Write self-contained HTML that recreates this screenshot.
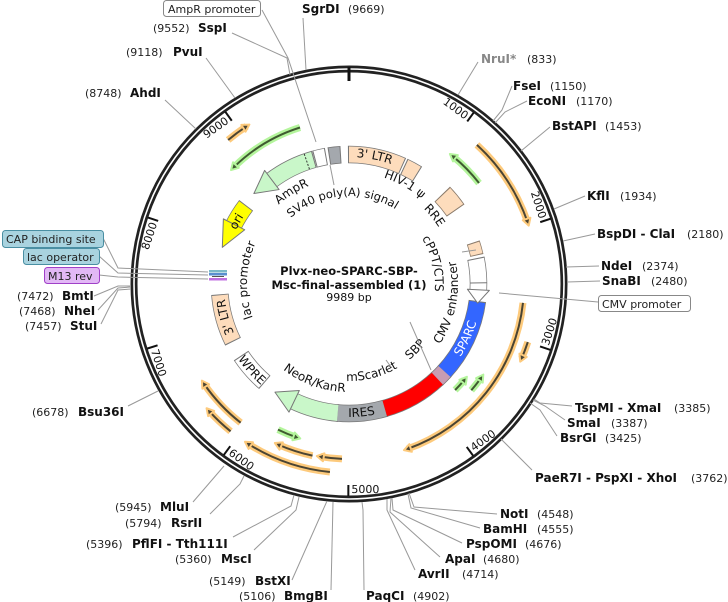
<!DOCTYPE html>
<html><head><meta charset="utf-8"><style>
html,body{margin:0;padding:0;background:#fff;}
svg{display:block;font-family:"DejaVu Sans","Liberation Sans",sans-serif;}
.n{font-size:11px;fill:#222;}
.b{font-size:12px;font-weight:bold;fill:#111;}
.f{font-size:12px;fill:#111;}
.t{font-size:11px;fill:#111;}
.ld{stroke:#999;stroke-width:1;fill:none;}
</style></head><body>
<svg width="728" height="602" viewBox="0 0 728 602" xmlns="http://www.w3.org/2000/svg">
<defs>
<path id="T127" d="M349,411 A127,127 0 1 1 349,157 A127,127 0 1 1 349,411"/>
<path id="T112" d="M349,396 A112,112 0 1 1 349,172 A112,112 0 1 1 349,396"/>
<path id="T106" d="M349,390 A106,106 0 1 1 349,178 A106,106 0 1 1 349,390"/>
<path id="T86" d="M349,370 A86,86 0 1 1 349,198 A86,86 0 1 1 349,370"/>
<path id="T102" d="M349,386 A102,102 0 1 1 349,182 A102,102 0 1 1 349,386"/>
<path id="T88" d="M349,372 A88,88 0 1 1 349,196 A88,88 0 1 1 349,372"/>
<path id="T125" d="M349,409 A125,125 0 1 1 349,159 A125,125 0 1 1 349,409"/>
<path id="B109" d="M349,175 A109,109 0 1 0 349,393 A109,109 0 1 0 349,175"/>
<path id="B133" d="M349,151 A133,133 0 1 0 349,417 A133,133 0 1 0 349,151"/>
<path id="B97" d="M349,187 A97,97 0 1 0 349,381 A97,97 0 1 0 349,187"/>
<path id="B108" d="M349,176 A108,108 0 1 0 349,392 A108,108 0 1 0 349,176"/>
<path id="B134" d="M349,150 A134,134 0 1 0 349,418 A134,134 0 1 0 349,150"/>
</defs>

<circle cx="349" cy="284" r="215" fill="none" stroke="#222" stroke-width="7"/>
<circle cx="349" cy="284" r="215" fill="none" stroke="#fff" stroke-width="1.6"/>

<line x1="349" y1="67" x2="349" y2="81" stroke="#111" stroke-width="3"/>
<g stroke="#111" stroke-width="2">
<line x1="349" y1="72" x2="349" y2="83" transform="rotate(36.04 349 284)"/>
<line x1="349" y1="72" x2="349" y2="83" transform="rotate(72.07 349 284)"/>
<line x1="349" y1="72" x2="349" y2="83" transform="rotate(108.11 349 284)"/>
<line x1="349" y1="72" x2="349" y2="83" transform="rotate(144.14 349 284)"/>
<line x1="349" y1="72" x2="349" y2="83" transform="rotate(180.18 349 284)"/>
<line x1="349" y1="72" x2="349" y2="83" transform="rotate(216.22 349 284)"/>
<line x1="349" y1="72" x2="349" y2="83" transform="rotate(252.25 349 284)"/>
<line x1="349" y1="72" x2="349" y2="83" transform="rotate(288.29 349 284)"/>
<line x1="349" y1="72" x2="349" y2="83" transform="rotate(324.32 349 284)"/>
</g>
<g class="t">
<g transform="rotate(36.04 349 284)"><text x="346" y="83" text-anchor="end">1000</text></g>
<g transform="rotate(72.07 349 284)"><text x="346" y="83" text-anchor="end">2000</text></g>
<g transform="rotate(108.11 349 284) rotate(180 349 79)"><text x="352" y="83">3000</text></g>
<g transform="rotate(144.14 349 284) rotate(180 349 79)"><text x="352" y="83">4000</text></g>
<g transform="rotate(180.18 349 284) rotate(180 349 79)"><text x="352" y="83">5000</text></g>
<g transform="rotate(216.22 349 284) rotate(180 349 79)"><text x="352" y="83">6000</text></g>
<g transform="rotate(252.25 349 284) rotate(180 349 79)"><text x="352" y="83">7000</text></g>
<g transform="rotate(288.29 349 284)"><text x="346" y="83" text-anchor="end">8000</text></g>
<g transform="rotate(324.32 349 284)"><text x="346" y="83" text-anchor="end">9000</text></g>
</g>

<g fill="none" stroke="#fdca7c" stroke-width="7">
<circle cx="349" cy="284" r="188" stroke-dasharray="23 5000" transform="rotate(230 349 284)"/>
<circle cx="349" cy="284" r="189" stroke-dasharray="93 5000" transform="rotate(-47.4 349 284)"/>
<circle cx="349" cy="284" r="175" stroke-dasharray="196.4 5000" transform="rotate(6.2 349 284)"/>
<circle cx="349" cy="284" r="188" stroke-dasharray="17.4 5000" transform="rotate(18 349 284)"/>
<circle cx="349" cy="284" r="176" stroke-dasharray="53.4 5000" transform="rotate(128 349 284)"/>
<circle cx="349" cy="284" r="189" stroke-dasharray="29.4 5000" transform="rotate(128.8 349 284)"/>
<circle cx="349" cy="284" r="189" stroke-dasharray="87.1 5000" transform="rotate(95.8 349 284)"/>
<circle cx="349" cy="284" r="175.5" stroke-dasharray="36.1 5000" transform="rotate(102 349 284)"/>
<circle cx="349" cy="284" r="175" stroke-dasharray="21.7 5000" transform="rotate(92.3 349 284)"/>
</g>
<g fill="none" stroke="#b4f59c" stroke-width="7">
<circle cx="349" cy="284" r="164" stroke-dasharray="77.6 5000" transform="rotate(225.5 349 284)"/>
<circle cx="349" cy="284" r="164.6" stroke-dasharray="37.3 5000" transform="rotate(-50.8 349 284)"/>
<circle cx="349" cy="284" r="150" stroke-dasharray="14.1 5000" transform="rotate(39.6 349 284)"/>
<circle cx="349" cy="284" r="162" stroke-dasharray="15.8 5000" transform="rotate(35.4 349 284)"/>
<circle cx="349" cy="284" r="162" stroke-dasharray="20.1 5000" transform="rotate(108.9 349 284)"/>
</g>
<g fill="none" stroke="#4a4433" stroke-width="2">
<circle cx="349" cy="284" r="188" stroke-dasharray="23 5000" transform="rotate(230 349 284)"/>
<circle cx="349" cy="284" r="189" stroke-dasharray="93 5000" transform="rotate(-47.4 349 284)"/>
<circle cx="349" cy="284" r="175" stroke-dasharray="196.4 5000" transform="rotate(6.2 349 284)"/>
<circle cx="349" cy="284" r="188" stroke-dasharray="17.4 5000" transform="rotate(18 349 284)"/>
<circle cx="349" cy="284" r="176" stroke-dasharray="53.4 5000" transform="rotate(128 349 284)"/>
<circle cx="349" cy="284" r="189" stroke-dasharray="29.4 5000" transform="rotate(128.8 349 284)"/>
<circle cx="349" cy="284" r="189" stroke-dasharray="87.1 5000" transform="rotate(95.8 349 284)"/>
<circle cx="349" cy="284" r="175.5" stroke-dasharray="36.1 5000" transform="rotate(102 349 284)"/>
<circle cx="349" cy="284" r="175" stroke-dasharray="21.7 5000" transform="rotate(92.3 349 284)"/>
</g>
<g fill="none" stroke="#3f5a30" stroke-width="2">
<circle cx="349" cy="284" r="164" stroke-dasharray="77.6 5000" transform="rotate(225.5 349 284)"/>
<circle cx="349" cy="284" r="164.6" stroke-dasharray="37.3 5000" transform="rotate(-50.8 349 284)"/>
<circle cx="349" cy="284" r="150" stroke-dasharray="14.1 5000" transform="rotate(39.6 349 284)"/>
<circle cx="349" cy="284" r="162" stroke-dasharray="15.8 5000" transform="rotate(35.4 349 284)"/>
<circle cx="349" cy="284" r="162" stroke-dasharray="20.1 5000" transform="rotate(108.9 349 284)"/>
</g>
<g fill="#4a4433" stroke="#fdca7c" stroke-width="2" stroke-linejoin="round">
<polygon points="349,96 342,92 342,100" transform="rotate(328 349 284)"/>
<polygon points="349,95 342,91 342,99" transform="rotate(72 349 284)"/>
<polygon points="349,109 342,105 342,113" transform="rotate(161.7 349 284)"/>
<polygon points="349,96 342,92 342,100" transform="rotate(114.4 349 284)"/>
<polygon points="349,108 342,104 342,112" transform="rotate(236.7 349 284)"/>
<polygon points="349,95 342,91 342,99" transform="rotate(228.9 349 284)"/>
<polygon points="349,95 342,91 342,99" transform="rotate(213.4 349 284)"/>
<polygon points="349,108.5 342,104.5 342,112.5" transform="rotate(205 349 284)"/>
<polygon points="349,109 342,105 342,113" transform="rotate(190.6 349 284)"/>
</g>
<g fill="#3f5a30" stroke="#b4f59c" stroke-width="2" stroke-linejoin="round">
<polygon points="349,120 356,116 356,124" transform="rotate(314 349 284)"/>
<polygon points="349,119.4 356,115.4 356,123.4" transform="rotate(37.8 349 284)"/>
<polygon points="349,134 356,130 356,138" transform="rotate(128.2 349 284)"/>
<polygon points="349,122 356,118 356,126" transform="rotate(124 349 284)"/>
<polygon points="349,122 356,118 356,126" transform="rotate(197.5 349 284)"/>
</g>

<g fill="none" stroke="#777" stroke-width="17.5">
<circle cx="349" cy="284" r="129.5" stroke-dasharray="56.2 5000" transform="rotate(-90.45 349 284)"/>
<circle cx="349" cy="284" r="129.5" stroke-dasharray="15.6 5000" transform="rotate(-64.95 349 284)"/>
<circle cx="349" cy="284" r="129.5" stroke-dasharray="33.6 5000" transform="rotate(-11.45 349 284)"/>
<circle cx="349" cy="284" r="129.5" stroke-dasharray="80 5000" transform="rotate(7.55 349 284)"/>
<circle cx="349" cy="284" r="129.5" stroke-dasharray="12.2 5000" transform="rotate(42.05 349 284)"/>
<circle cx="349" cy="284" r="129.5" stroke-dasharray="63 5000" transform="rotate(46.55 349 284)"/>
<circle cx="349" cy="284" r="129.5" stroke-dasharray="49.5 5000" transform="rotate(73.55 349 284)"/>
<circle cx="349" cy="284" r="129.5" stroke-dasharray="48.3 5000" transform="rotate(94.55 349 284)"/>
<circle cx="349" cy="284" r="129.5" stroke-dasharray="35.9 5000" transform="rotate(130.55 349 284)"/>
<circle cx="349" cy="284" r="129.5" stroke-dasharray="49.5 5000" transform="rotate(153.55 349 284)"/>
<circle cx="349" cy="284" r="129.5" stroke-dasharray="24.6 5000" transform="rotate(206.55 349 284)"/>
<circle cx="349" cy="284" r="129.5" stroke-dasharray="49.5 5000" transform="rotate(232.55 349 284)"/>
<circle cx="349" cy="284" r="129.5" stroke-dasharray="12.2 5000" transform="rotate(254.55 349 284)"/>
<circle cx="349" cy="284" r="129.5" stroke-dasharray="12.2 5000" transform="rotate(261.05 349 284)"/>
</g>
<circle cx="349" cy="284" r="129.5" fill="none" stroke="#8a7a6a" stroke-width="21.5" stroke-dasharray="21.2 5000" transform="rotate(-43.95 349 284)"/>
<circle cx="349" cy="284" r="131" fill="none" stroke="#8a7a6a" stroke-width="13.5" stroke-dasharray="13.4 5000" transform="rotate(-18.45 349 284)"/>
<g fill="none" stroke-width="16">
<circle cx="349" cy="284" r="129.5" stroke="#fddcbc" stroke-dasharray="54.2 5000" transform="rotate(-90 349 284)"/>
<circle cx="349" cy="284" r="129.5" stroke="#fddcbc" stroke-dasharray="13.6 5000" transform="rotate(-64.5 349 284)"/>
<circle cx="349" cy="284" r="129.5" stroke="#fddcbc" stroke-width="20" stroke-dasharray="19.2 5000" transform="rotate(-43.5 349 284)"/>
<circle cx="349" cy="284" r="131" stroke="#fddcbc" stroke-width="12" stroke-dasharray="11.4 5000" transform="rotate(-18 349 284)"/>
<circle cx="349" cy="284" r="129.5" stroke="#ffffff" stroke-dasharray="31.6 5000" transform="rotate(-11 349 284)"/>
<circle cx="349" cy="284" r="129.5" stroke="#3366ff" stroke-dasharray="78 5000" transform="rotate(8 349 284)"/>
<circle cx="349" cy="284" r="129.5" stroke="#c89cb2" stroke-dasharray="10.2 5000" transform="rotate(42.5 349 284)"/>
<circle cx="349" cy="284" r="129.5" stroke="#ff0000" stroke-dasharray="61 5000" transform="rotate(47 349 284)"/>
<circle cx="349" cy="284" r="129.5" stroke="#a4a8ad" stroke-dasharray="47.5 5000" transform="rotate(74 349 284)"/>
<circle cx="349" cy="284" r="129.5" stroke="#c9f7c9" stroke-dasharray="46.3 5000" transform="rotate(95 349 284)"/>
<circle cx="349" cy="284" r="129.5" stroke="#ffffff" stroke-dasharray="33.9 5000" transform="rotate(131 349 284)"/>
<circle cx="349" cy="284" r="129.5" stroke="#fddcbc" stroke-dasharray="47.5 5000" transform="rotate(154 349 284)"/>
<circle cx="349" cy="284" r="129.5" stroke="#ffff00" stroke-dasharray="22.6 5000" transform="rotate(207 349 284)"/>
<circle cx="349" cy="284" r="129.5" stroke="#c9f7c9" stroke-dasharray="47.5 5000" transform="rotate(233 349 284)"/>
<circle cx="349" cy="284" r="129.5" stroke="#ffffff" stroke-dasharray="10.2 5000" transform="rotate(255 349 284)"/>
<circle cx="349" cy="284" r="129.5" stroke="#a4a8ad" stroke-dasharray="10.2 5000" transform="rotate(261.5 349 284)"/>
</g>
<g stroke="#777" stroke-width="1" stroke-linejoin="round">
<polygon points="348,143.5 361.4,154.5 348,165.5" fill="#fff" transform="rotate(93 349 284)"/>
<polygon points="348,142.5 369.3,154.5 348,166.5" fill="#c9f7c9" transform="rotate(205.5 349 284)"/>
<polygon points="350,142.5 324.1,154.5 350,166.5" fill="#ffff00" transform="rotate(297 349 284)"/>
<polygon points="350,142.5 327.5,154.5 350,166.5" fill="#c9f7c9" transform="rotate(323 349 284)"/>
</g>
<line x1="349" y1="146.5" x2="349" y2="162.5" stroke="#777" stroke-width="1" transform="rotate(89.5 349 284)"/>
<line x1="349" y1="146.5" x2="349" y2="162.5" stroke="#333" stroke-width="1" stroke-dasharray="2 1.5" transform="rotate(341 349 284)"/>
<rect x="209" y="270" width="18" height="2.5" fill="#7ab8c8"/>
<rect x="209" y="273" width="18" height="2.5" fill="#5a8fd0"/>
<rect x="212" y="276" width="12" height="1" fill="#555"/>
<rect x="209" y="278" width="18" height="2.5" fill="#c070e0"/>

<g class="f">
<text><textPath href="#T127" startOffset="424.2" text-anchor="middle">3' LTR</textPath></text>
<text><textPath href="#T112" startOffset="408.6" text-anchor="middle">HIV-1 ψ</textPath></text>
<text><textPath href="#T106" startOffset="427.4" text-anchor="middle">RRE</textPath></text>
<text><textPath href="#T86" startOffset="384.3" text-anchor="middle">cPPT/CTS</textPath></text>
<text><textPath href="#T102" startOffset="163.8" text-anchor="middle">lac promoter</textPath></text>
<text><textPath href="#T106" startOffset="273.8" text-anchor="middle">AmpR</textPath></text>
<text style="font-size:11.5px"><textPath href="#T88" startOffset="268.8" text-anchor="middle">SV40 poly(A) signal</textPath></text>
<text><textPath href="#T125" startOffset="163.6" text-anchor="middle">3' LTR</textPath></text>
<text><textPath href="#T125" startOffset="259.6" text-anchor="middle">ori</textPath></text>
<text><textPath href="#B109" startOffset="492.8" text-anchor="middle">CMV enhancer</textPath></text>
<text style="fill:#fff"><textPath href="#B133" startOffset="568.7" text-anchor="middle">SPARC</textPath></text>
<text><textPath href="#B97" startOffset="380.9" text-anchor="middle">SBP</textPath></text>
<text><textPath href="#B97" startOffset="328.4" text-anchor="middle">mScarlet</textPath></text>
<text><textPath href="#B108" startOffset="301.6" text-anchor="middle">NeoR/KanR</textPath></text>
<text><textPath href="#B133" startOffset="430.6" text-anchor="middle">IRES</textPath></text>
<text><textPath href="#B134" startOffset="307.5" text-anchor="middle">WPRE</textPath></text>
</g>
<line class="ld" x1="410" y1="322" x2="431" y2="370"/>
<line class="ld" x1="330" y1="165" x2="334" y2="185"/>
<line class="ld" x1="386" y1="360" x2="391" y2="367"/>
<line class="ld" x1="462" y1="252" x2="476" y2="250"/>

<text x="349" y="275" text-anchor="middle" style="font-size:11.5px;font-weight:bold;fill:#111">Plvx-neo-SPARC-SBP-</text>
<text x="349" y="289" text-anchor="middle" style="font-size:11.5px;font-weight:bold;fill:#111">Msc-final-assembled (1)</text>
<text x="349" y="301" text-anchor="middle" style="font-size:11px;fill:#111">9989 bp</text>

<g class="ld">
<polyline points="303,18 306,70"/>
<polyline points="232,33 287,58 290,75"/>
<polyline points="262,10 288,58 316,142"/>
<polyline points="206,58 235,98"/>
<polyline points="165,100 196,129"/>
<polyline points="478,62 458,95"/>
<polyline points="512,86 502,110 493,121"/>
<polyline points="527,101 505,112 495,123"/>
<polyline points="550,127 521,151"/>
<polyline points="585,196 554,209"/>
<polyline points="595,234 563,241"/>
<polyline points="599,266 566,267"/>
<polyline points="600,281 567,282"/>
<polyline points="598,302 499,293"/>
<polyline points="572,406 540,403 534,399"/>
<polyline points="565,420 545,406 533,400"/>
<polyline points="557,436 540,410 530,403"/>
<polyline points="532,470 501,439"/>
<polyline points="497,514 414,507 409,493"/>
<polyline points="480,528 411,508 408,494"/>
<polyline points="462,543 393,510 392,498"/>
<polyline points="440,557 390,512 391,498"/>
<polyline points="415,570 387,510 387,499"/>
<polyline points="364,590 363,510 362,502"/>
<polyline points="331,590 333,502"/>
<polyline points="292,580 323,510 327,501"/>
<polyline points="254,550 296,510 299,497"/>
<polyline points="233,537 291,506 294,495"/>
<polyline points="210,514 240,484 244,476"/>
<polyline points="193,502 224,466"/>
<polyline points="128,406 158,391"/>
<polyline points="101,324 118,290 131,289"/>
<polyline points="98,310 118,288 131,287"/>
<polyline points="94,296 118,286 131,286"/>
<polyline points="103,238 118,268 208,272"/>
<polyline points="99,256 118,273 208,275"/>
<polyline points="99,275 118,277 208,279"/>
</g>

<rect x="163.5" y="0.5" width="97" height="16" rx="3" fill="#fff" stroke="#888"/>
<text class="n" x="168" y="13">AmpR promoter</text>
<rect x="598.5" y="295.5" width="92" height="16" rx="3" fill="#fff" stroke="#888"/>
<text class="n" x="602" y="308">CMV promoter</text>
<rect x="2.5" y="230.5" width="101" height="17" rx="3" fill="#a9d3df" stroke="#4a8fa3"/>
<text class="n" x="6" y="243">CAP binding site</text>
<rect x="23.5" y="248.5" width="76" height="16" rx="3" fill="#a9d3df" stroke="#4a8fa3"/>
<text class="n" x="27" y="261">lac operator</text>
<rect x="44.5" y="267.5" width="55" height="16" rx="3" fill="#e2b8f5" stroke="#a040c8"/>
<text class="n" x="48" y="280">M13 rev</text>

<text class="b" x="302" y="13">SgrDI</text><text class="n" x="348" y="13">(9669)</text>
<text class="n" x="153" y="32">(9552)</text><text class="b" x="198" y="32">SspI</text>
<text class="n" x="126" y="56">(9118)</text><text class="b" x="173" y="56">PvuI</text>
<text class="n" x="85" y="97">(8748)</text><text class="b" x="130" y="97">AhdI</text>
<text class="b" x="481" y="63" style="fill:#888">NruI*</text><text class="n" x="527" y="63">(833)</text>
<text class="b" x="513" y="90">FseI</text><text class="n" x="550" y="90">(1150)</text>
<text class="b" x="528" y="105">EcoNI</text><text class="n" x="576" y="105">(1170)</text>
<text class="b" x="552" y="130">BstAPI</text><text class="n" x="605" y="130">(1453)</text>
<text class="b" x="587" y="200">KflI</text><text class="n" x="620" y="200">(1934)</text>
<text class="b" x="597" y="238">BspDI - ClaI</text><text class="n" x="687" y="238">(2180)</text>
<text class="b" x="601" y="270">NdeI</text><text class="n" x="642" y="270">(2374)</text>
<text class="b" x="602" y="285">SnaBI</text><text class="n" x="651" y="285">(2480)</text>
<text class="b" x="575" y="412">TspMI - XmaI</text><text class="n" x="674" y="412">(3385)</text>
<text class="b" x="567" y="427">SmaI</text><text class="n" x="611" y="427">(3387)</text>
<text class="b" x="560" y="442">BsrGI</text><text class="n" x="605" y="442">(3425)</text>
<text class="b" x="535" y="482">PaeR7I - PspXI - XhoI</text><text class="n" x="691" y="482">(3762)</text>
<text class="b" x="500" y="518">NotI</text><text class="n" x="537" y="518">(4548)</text>
<text class="b" x="483" y="533">BamHI</text><text class="n" x="537" y="533">(4555)</text>
<text class="b" x="466" y="548">PspOMI</text><text class="n" x="525" y="548">(4676)</text>
<text class="b" x="445" y="563">ApaI</text><text class="n" x="483" y="563">(4680)</text>
<text class="b" x="418" y="578">AvrII</text><text class="n" x="462" y="578">(4714)</text>
<text class="b" x="366" y="600">PaqCI</text><text class="n" x="413" y="600">(4902)</text>
<text class="n" x="17" y="300">(7472)</text><text class="b" x="62" y="300">BmtI</text>
<text class="n" x="19" y="315">(7468)</text><text class="b" x="64" y="315">NheI</text>
<text class="n" x="25" y="330">(7457)</text><text class="b" x="70" y="330">StuI</text>
<text class="n" x="32" y="416">(6678)</text><text class="b" x="78" y="416">Bsu36I</text>
<text class="n" x="115" y="511">(5945)</text><text class="b" x="160" y="511">MluI</text>
<text class="n" x="125" y="527">(5794)</text><text class="b" x="171" y="527">RsrII</text>
<text class="n" x="86" y="548">(5396)</text><text class="b" x="132" y="548">PflFI - Tth111I</text>
<text class="n" x="175" y="563">(5360)</text><text class="b" x="221" y="563">MscI</text>
<text class="n" x="209" y="585">(5149)</text><text class="b" x="255" y="585">BstXI</text>
<text class="n" x="239" y="600">(5106)</text><text class="b" x="284" y="600">BmgBI</text>
</svg>
</body></html>
